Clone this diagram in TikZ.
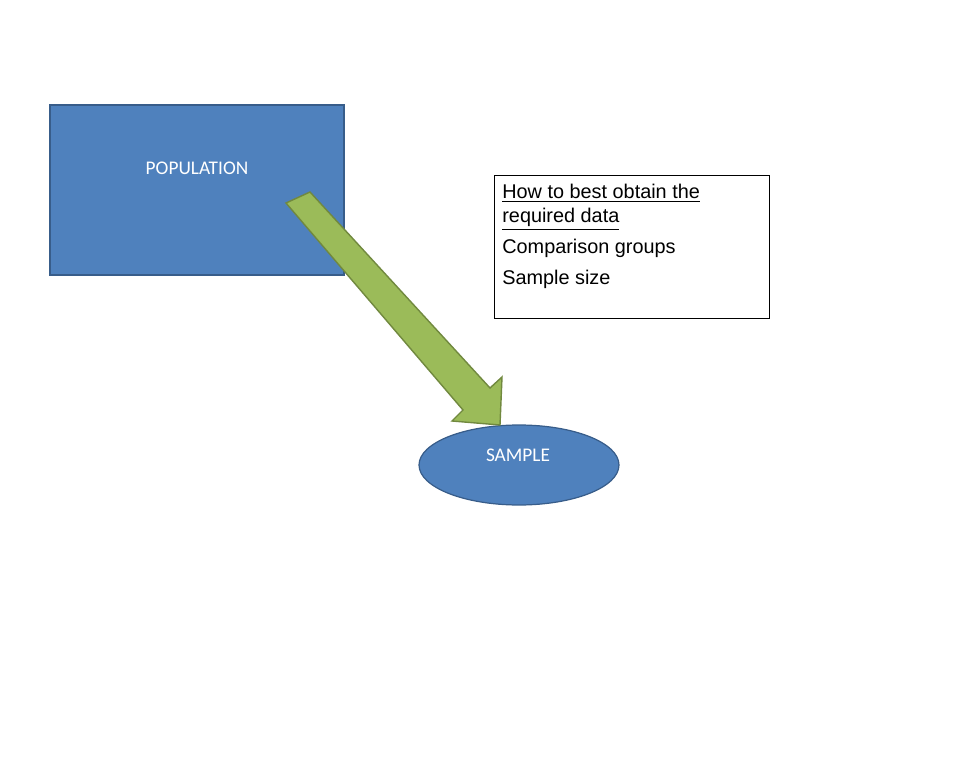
\documentclass[tikz,border=0pt]{standalone}
\usepackage{fontspec}
\setmainfont{Liberation Sans}
\newfontfamily\calibrifont{Carlito}
\usepackage{tikz}
\usetikzlibrary{positioning,shapes.geometric}
\definecolor{shapeblue}{HTML}{4F81BD}
\definecolor{shapeblueline}{HTML}{385D8A}
\definecolor{arrowgreen}{HTML}{9BBB59}
\definecolor{arrowgreenline}{HTML}{71893F}

\begin{document}
\begin{tikzpicture}[x=0.02cm, y=-0.02cm,
    blueshape/.style={draw=shapeblueline, fill=shapeblue, line width=0.7pt,
        text=white, font=\calibrifont\fontsize{11}{13}\selectfont},
    notebox/.style={rectangle, draw=black, line width=0.5pt, fill=white,
        minimum width=5.5cm, minimum height=2.86cm, inner sep=0pt},
    noteline/.style={anchor=base west, inner sep=0pt,
        font=\fontsize{11.3}{13}\selectfont},
    blockarrow/.style={draw=arrowgreenline, fill=arrowgreen, line width=0.8pt, line join=miter}
]
    \useasboundingbox (0,0) rectangle (974,760);

    % population box
    \node[blueshape, rectangle, minimum width=5.88cm, minimum height=3.4cm,
        inner sep=0pt] (pop) at (197,190) {};
    \node[text=white, font=\calibrifont\fontsize{11}{13}\selectfont] (poplabel) at (197,168) {POPULATION};

    % sample
    \node[blueshape, ellipse, minimum width=4cm, minimum height=1.6cm,
        inner sep=0pt] (sample) at (519,465) {};
    \node[text=white, font=\calibrifont\fontsize{11}{13}\selectfont] (samplelabel) at (518,455) {SAMPLE};

    % notes
    \node[notebox] (notes) at (631.5,246.5) {};
    \node[noteline] (n1) at (502,198.5) {\underline{How to best obtain the}};
    \node[noteline] (n2) at (502,222.5) {\underline{required data}};
    \node[noteline] (n3) at (502,253.5) {Comparison groups};
    \node[noteline] (n4) at (502,284.5) {Sample size};

    % green block arrow
    \draw[blockarrow] (286,203) -- (310,192) -- (490,388) -- (502,377)
        -- (500,425) -- (452,421) -- (463,410) -- cycle;
\end{tikzpicture}
\end{document}
